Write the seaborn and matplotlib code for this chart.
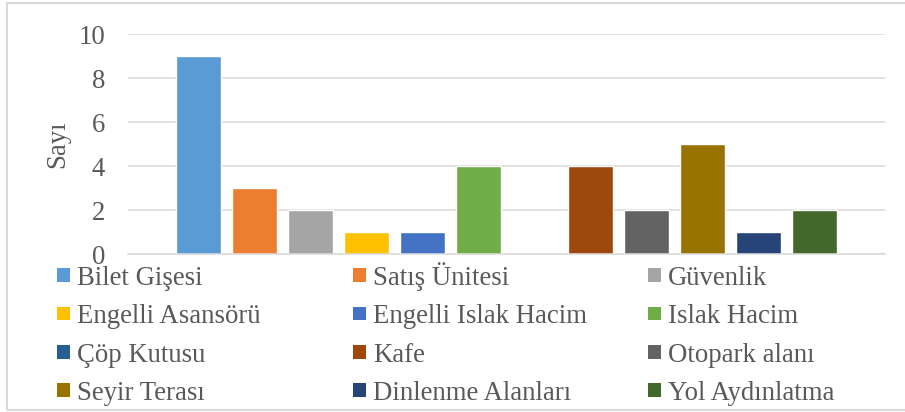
import matplotlib
matplotlib.use("Agg")
import matplotlib.pyplot as plt
import seaborn as sns
from matplotlib.patches import Patch, Rectangle

categories = ["Bilet Gişesi", "Satış Ünitesi", "Güvenlik", "Engelli Asansörü",
              "Engelli Islak Hacim", "Islak Hacim", "Çöp Kutusu", "Kafe",
              "Otopark alanı", "Seyir Terası", "Dinlenme Alanları", "Yol Aydınlatma"]
values = [9, 3, 2, 1, 1, 4, 0, 4, 2, 5, 1, 2]
colors = ["#5B9BD5", "#ED7D31", "#A5A5A5", "#FFC000", "#4472C4", "#70AD47",
          "#255E91", "#9E480E", "#636363", "#997300", "#264478", "#43682B"]
y_ticks = [0, 2, 4, 6, 8, 10]
y_label = "Sayı"

sns.set_theme(style="white")
plt.rcParams["font.family"] = ["Liberation Serif", "DejaVu Serif"]
TXT = "#595959"
FS = 19.3
FS_PX = FS * 100 / 72

W, H = 905, 412
fig = plt.figure(figsize=(W / 100, H / 100), dpi=100)
ax = fig.add_axes([128 / W, (H - 254.3) / H, (885 - 128) / W, (254.3 - 34.3) / H])

sns.barplot(x=categories, y=values, hue=categories, palette=colors, dodge=False,
            width=0.80, legend=False, saturation=1, ax=ax)

ax.set_xlim(-1.259, 12.259)
ax.set_ylim(0, 10)
ax.set_yticks(y_ticks)
ax.set_yticklabels([str(t) for t in y_ticks], fontsize=FS, color=TXT)
ax.tick_params(axis="y", length=0, pad=16.5)
ax.set_xticks([])
ax.set_xlabel("")
ax.yaxis.grid(True, color="#D9D9D9", linewidth=1.1)
ax.set_axisbelow(True)
for s in ["left", "right", "top"]:
    ax.spines[s].set_visible(False)
ax.spines["bottom"].set_color("#D9D9D9")
ax.spines["bottom"].set_linewidth(1.1)

ax.set_ylabel(y_label, fontsize=FS, color=TXT, va="center")
ax.yaxis.set_label_coords((58 - 128) / 757, 0.5)

# legend: 3 columns x 4 rows, one single-entry legend per cell so that
# columns sit at fixed positions like the original
col_x = [57, 353, 648]
row_base = [285, 323.3, 361.7, 400]
desc = 0.217 * FS_PX
for i, (lab, col) in enumerate(zip(categories, colors)):
    r, c = divmod(i, 3)
    fig.legend([Patch(facecolor=col, edgecolor="none")], [lab], loc="lower left",
               bbox_to_anchor=(col_x[c] / W, (H - row_base[r] - desc) / H),
               frameon=False, borderpad=0, borderaxespad=0,
               handlelength=0.5, handleheight=0.4, handletextpad=0.24,
               fontsize=FS, labelcolor=TXT)

# chart border
fig.add_artist(Rectangle((7 / W, 2 / H), 1.2, (H - 5) / H, transform=fig.transFigure,
                         fill=False, edgecolor="#D9D9D9", linewidth=1.5))

fig.savefig("out.png", dpi=100, facecolor="white")
